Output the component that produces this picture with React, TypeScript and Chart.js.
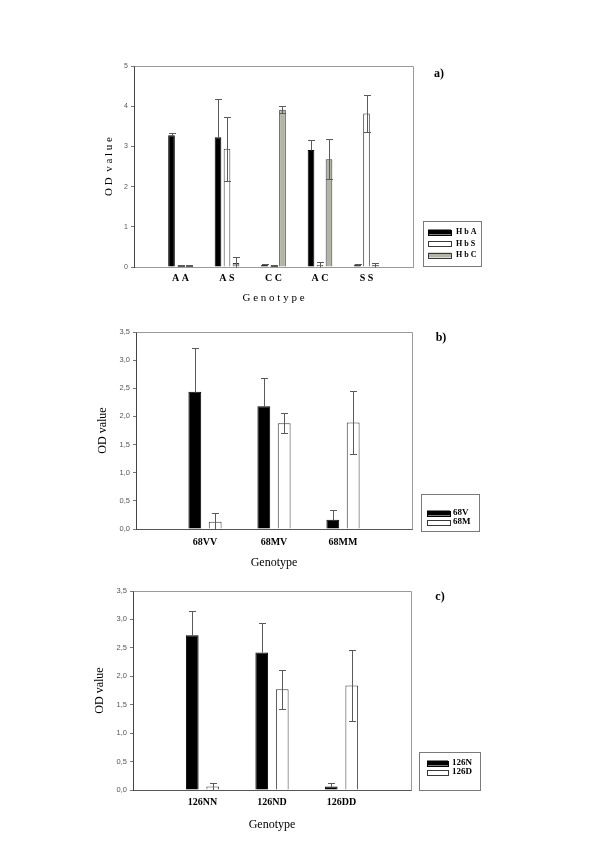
import React, { useEffect, useRef } from 'react';
import { Chart, registerables } from 'chart.js';
Chart.register(...registerables);

// ---------- Panel a data ----------
const catsA = ['', 'A A', 'A S', 'C C', 'A C', 'S S', ''];
const hbA = [null, 3.28, 3.23, 0.05, 2.91, 0.06, null];
const hbAErr = [null, 0.06, 0.96, 0.02, 0.25, 0.02, null];
const hbS = [null, 0.04, 2.94, 0.04, 0.05, 3.82, null];
const hbSErr = [null, 0.01, 0.8, 0.01, 0.07, 0.45, null];
const hbC = [null, 0.04, 0.1, 3.91, 2.68, 0.05, null];
const hbCErr = [null, 0.01, 0.15, 0.09, 0.5, 0.06, null];
const yTicksA = ['0', '1', '2', '3', '4', '5'];

// ---------- Panel b data ----------
const catsB = ['', '68VV', '68MV', '68MM', ''];
const v68 = [null, 2.44, 2.18, 0.165, null];
const v68Err = [null, 0.77, 0.51, 0.165, null];
const m68 = [null, 0.13, 1.88, 1.89, null];
const m68Err = [null, 0.16, 0.18, 0.56, null];

// ---------- Panel c data ----------
const catsC = ['', '126NN', '126ND', '126DD', ''];
const n126 = [null, 2.72, 2.42, 0.06, null];
const n126Err = [null, 0.43, 0.52, 0.06, null];
const d126 = [null, 0.06, 1.77, 1.84, null];
const d126Err = [null, 0.06, 0.34, 0.63, null];
const yTicksBC = ['0,0', '0,5', '1,0', '1,5', '2,0', '2,5', '3,0', '3,5'];

const SERIF = "'Liberation Serif', 'Times New Roman', serif";
const SANS = "'Liberation Sans', Arial, sans-serif";

const errorBars = {
  id: 'errorBars',
  afterDatasetsDraw(chart: any) {
    const ctx = chart.ctx;
    const ys = chart.scales.y;
    chart.data.datasets.forEach((ds: any, di: number) => {
      const errs = ds.errors;
      if (!errs) return;
      const meta = chart.getDatasetMeta(di);
      meta.data.forEach((bar: any, i: number) => {
        const v = ds.data[i];
        const e = errs[i];
        if (v == null || e == null) return;
        const x = Math.round(bar.x) + 0.5;
        const yTop = Math.round(ys.getPixelForValue(v + e)) + 0.5;
        const yBot = Math.round(ys.getPixelForValue(ds.errUpOnly ? v : Math.max(0, v - e))) + 0.5;
        const cap = 3.5;
        ctx.save();
        ctx.strokeStyle = '#5a5a5a';
        ctx.lineWidth = 1;
        ctx.beginPath();
        ctx.moveTo(x, yTop);
        ctx.lineTo(x, yBot);
        ctx.moveTo(x - cap, yTop);
        ctx.lineTo(x + cap, yTop);
        if (!ds.errUpOnly && v - e > 0) {
          ctx.moveTo(x - cap, yBot);
          ctx.lineTo(x + cap, yBot);
        }
        ctx.stroke();
        ctx.restore();
      });
    });
  },
};

const frameAndLegend = {
  id: 'frameAndLegend',
  afterDraw(chart: any, _args: any, opts: any) {
    const ctx = chart.ctx;
    const { left, right, top, bottom } = chart.chartArea;
    ctx.save();
    ctx.strokeStyle = opts.frameColor;
    ctx.lineWidth = 1;
    ctx.beginPath();
    ctx.moveTo(Math.round(left) + 0.5, Math.round(top) + 0.5);
    ctx.lineTo(Math.round(right) + 0.5, Math.round(top) + 0.5);
    ctx.lineTo(Math.round(right) + 0.5, Math.round(bottom) + 0.5);
    ctx.stroke();

    // legend box
    const L = opts.legend;
    ctx.strokeStyle = '#7a7a7a';
    ctx.strokeRect(L.x + 0.5, L.y + 0.5, L.w, L.h);
    ctx.font = L.font;
    ctx.textBaseline = 'middle';
    ctx.textAlign = 'left';
    chart.data.datasets.forEach((ds: any, i: number) => {
      const ry = L.rows[i];
      ctx.fillStyle = ds.backgroundColor;
      ctx.fillRect(L.sx, ry - L.sh / 2, L.sw, L.sh);
      ctx.strokeStyle = ds.legendBorder || ds.borderColor;
      ctx.strokeRect(L.sx + 0.5, Math.round(ry - L.sh / 2) + 0.5, L.sw, L.sh);
      ctx.fillStyle = '#000';
      ctx.fillText(ds.label, L.tx, ry);
    });

    // panel letter
    ctx.font = opts.letterFont;
    ctx.textAlign = 'center';
    ctx.fillStyle = '#000';
    ctx.fillText(opts.letter, opts.letterX, opts.letterY);
    ctx.restore();
  },
};

function makeConfig(p: any) {
  return {
    type: 'bar',
    data: { labels: p.labels, datasets: p.datasets },
    options: {
      responsive: false,
      animation: false,
      devicePixelRatio: 1,
      datasets: { bar: { categoryPercentage: p.catPct, barPercentage: p.barPct } },
      layout: { padding: { left: 0, top: p.padTop, right: p.padRight, bottom: 0 } },
      plugins: {
        legend: { display: false },
        tooltip: { enabled: false },
        frameAndLegend: {
          frameColor: '#9a9a9a',
          legend: p.legend,
          letter: p.letter,
          letterX: p.letterX,
          letterY: p.letterY,
          letterFont: `bold 12px ${SERIF}`,
        },
      },
      scales: {
        x: {
          type: 'category',
          offset: false,
          grid: { display: false, drawTicks: false },
          border: { display: true, color: p.xBorder, width: 1 },
          ticks: {
            autoSkip: false,
            maxRotation: 0,
            padding: p.xTickPad,
            color: '#000',
            font: { family: SERIF, size: 10, weight: 'bold' },
          },
          title: {
            display: true,
            text: p.xTitle,
            color: '#000',
            font: { family: SERIF, size: p.xTitleSize },
            padding: { top: 0, bottom: p.xTitlePad },
          },
          afterFit(s: any) {
            s.height = p.xHeight;
          },
        },
        y: {
          min: 0,
          max: p.yMax,
          grid: { display: true, drawOnChartArea: false, drawTicks: true, tickLength: 3, color: '#777' },
          border: { display: true, color: '#444', width: 1 },
          ticks: {
            stepSize: p.yStep,
            padding: 3,
            color: '#555',
            font: { family: SANS, size: p.yTickSize },
            callback: (_v: any, i: number) => p.yTicks[i],
          },
          title: {
            display: true,
            text: p.yTitle,
            color: '#000',
            font: { family: SERIF, size: p.yTitleSize },
            padding: { top: p.yTitlePad, bottom: 0 },
          },
          afterFit(s: any) {
            s.width = p.yWidth;
          },
        },
      },
    },
    plugins: [errorBars, frameAndLegend],
  };
}

const blackDs = (label: string, data: any[], errors: any[]) => ({
  label,
  data,
  errors,
  errUpOnly: true,
  backgroundColor: '#000000',
  borderColor: '#000000',
  borderWidth: 1,
});
const whiteDs = (label: string, data: any[], errors: any[]) => ({
  label,
  data,
  errors,
  backgroundColor: '#ffffff',
  borderColor: '#3a3a3a',
  borderWidth: 1,
});
const greyDs = (label: string, data: any[], errors: any[]) => ({
  label,
  data,
  errors,
  backgroundColor: '#b4b4a6',
  borderColor: '#3a3a3a',
  borderWidth: 1,
});

const panels = [
  {
    top: 0,
    height: 310,
    p: {
      labels: catsA,
      datasets: [blackDs('H b A', hbA, hbAErr), whiteDs('H b S', hbS, hbSErr), greyDs('H b C', hbC, hbCErr)],
      catPct: 0.58,
      barPct: 0.74,
      padTop: 66,
      padRight: 187,
      xHeight: 43,
      xTickPad: 5,
      xBorder: '#9a9a9a',
      xTitle: 'G e n o t y p e',
      xTitleSize: 11,
      xTitlePad: 5,
      yMax: 5,
      yStep: 1,
      yTicks: yTicksA,
      yTickSize: 7,
      yTitle: 'O D  v a l u e',
      yTitleSize: 11,
      yTitlePad: 103,
      yWidth: 134,
      legend: { x: 423, y: 221, w: 58, h: 45, rows: [232, 243.5, 255], sx: 428, sw: 23, sh: 5, tx: 456, font: `bold 8px ${SERIF}` },
      letter: 'a)',
      letterX: 439,
      letterY: 74,
    },
  },
  {
    top: 300,
    height: 280,
    p: {
      labels: catsB,
      datasets: [blackDs('68V', v68, v68Err), whiteDs('68M', m68, m68Err)],
      catPct: 0.59,
      barPct: 0.63,
      padTop: 32,
      padRight: 188,
      xHeight: 51,
      xTickPad: 7,
      xBorder: '#555555',
      xTitle: 'Genotype',
      xTitleSize: 12,
      xTitlePad: 10,
      yMax: 3.5,
      yStep: 0.5,
      yTicks: yTicksBC,
      yTickSize: 7.5,
      yTitle: 'OD value',
      yTitleSize: 12,
      yTitlePad: 96,
      yWidth: 136,
      legend: { x: 421, y: 194, w: 58, h: 37, rows: [213, 222], sx: 427, sw: 23, sh: 5, tx: 453, font: `bold 9px ${SERIF}` },
      letter: 'b)',
      letterX: 441,
      letterY: 38,
    },
  },
  {
    top: 580,
    height: 269,
    p: {
      labels: catsC,
      datasets: [blackDs('126N', n126, n126Err), whiteDs('126D', d126, d126Err)],
      catPct: 0.59,
      barPct: 0.62,
      padTop: 11,
      padRight: 189,
      xHeight: 59,
      xTickPad: 6,
      xBorder: '#555555',
      xTitle: 'Genotype',
      xTitleSize: 12,
      xTitlePad: 17,
      yMax: 3.5,
      yStep: 0.5,
      yTicks: yTicksBC,
      yTickSize: 7.5,
      yTitle: 'OD value',
      yTitleSize: 12,
      yTitlePad: 93,
      yWidth: 133,
      legend: { x: 419, y: 172, w: 61, h: 38, rows: [183, 192], sx: 427, sw: 21, sh: 5, tx: 452, font: `bold 9px ${SERIF}` },
      letter: 'c)',
      letterX: 440,
      letterY: 17,
    },
  },
];

function Panel({ top, height, p }: any) {
  const ref = useRef<HTMLCanvasElement | null>(null);
  useEffect(() => {
    if (!ref.current) return;
    const chart = new Chart(ref.current, makeConfig(p) as any);
    return () => chart.destroy();
  }, []);
  return (
    <canvas
      ref={ref}
      width={600}
      height={height}
      style={{ position: 'absolute', left: 0, top, width: 600, height }}
    />
  );
}

export default function App() {
  return (
    <div style={{ position: 'absolute', left: 0, top: 0, width: 600, height: 849, background: '#fff', overflow: 'hidden' }}>
      {panels.map((pn, i) => (
        <Panel key={i} top={pn.top} height={pn.height} p={pn.p} />
      ))}
    </div>
  );
}
